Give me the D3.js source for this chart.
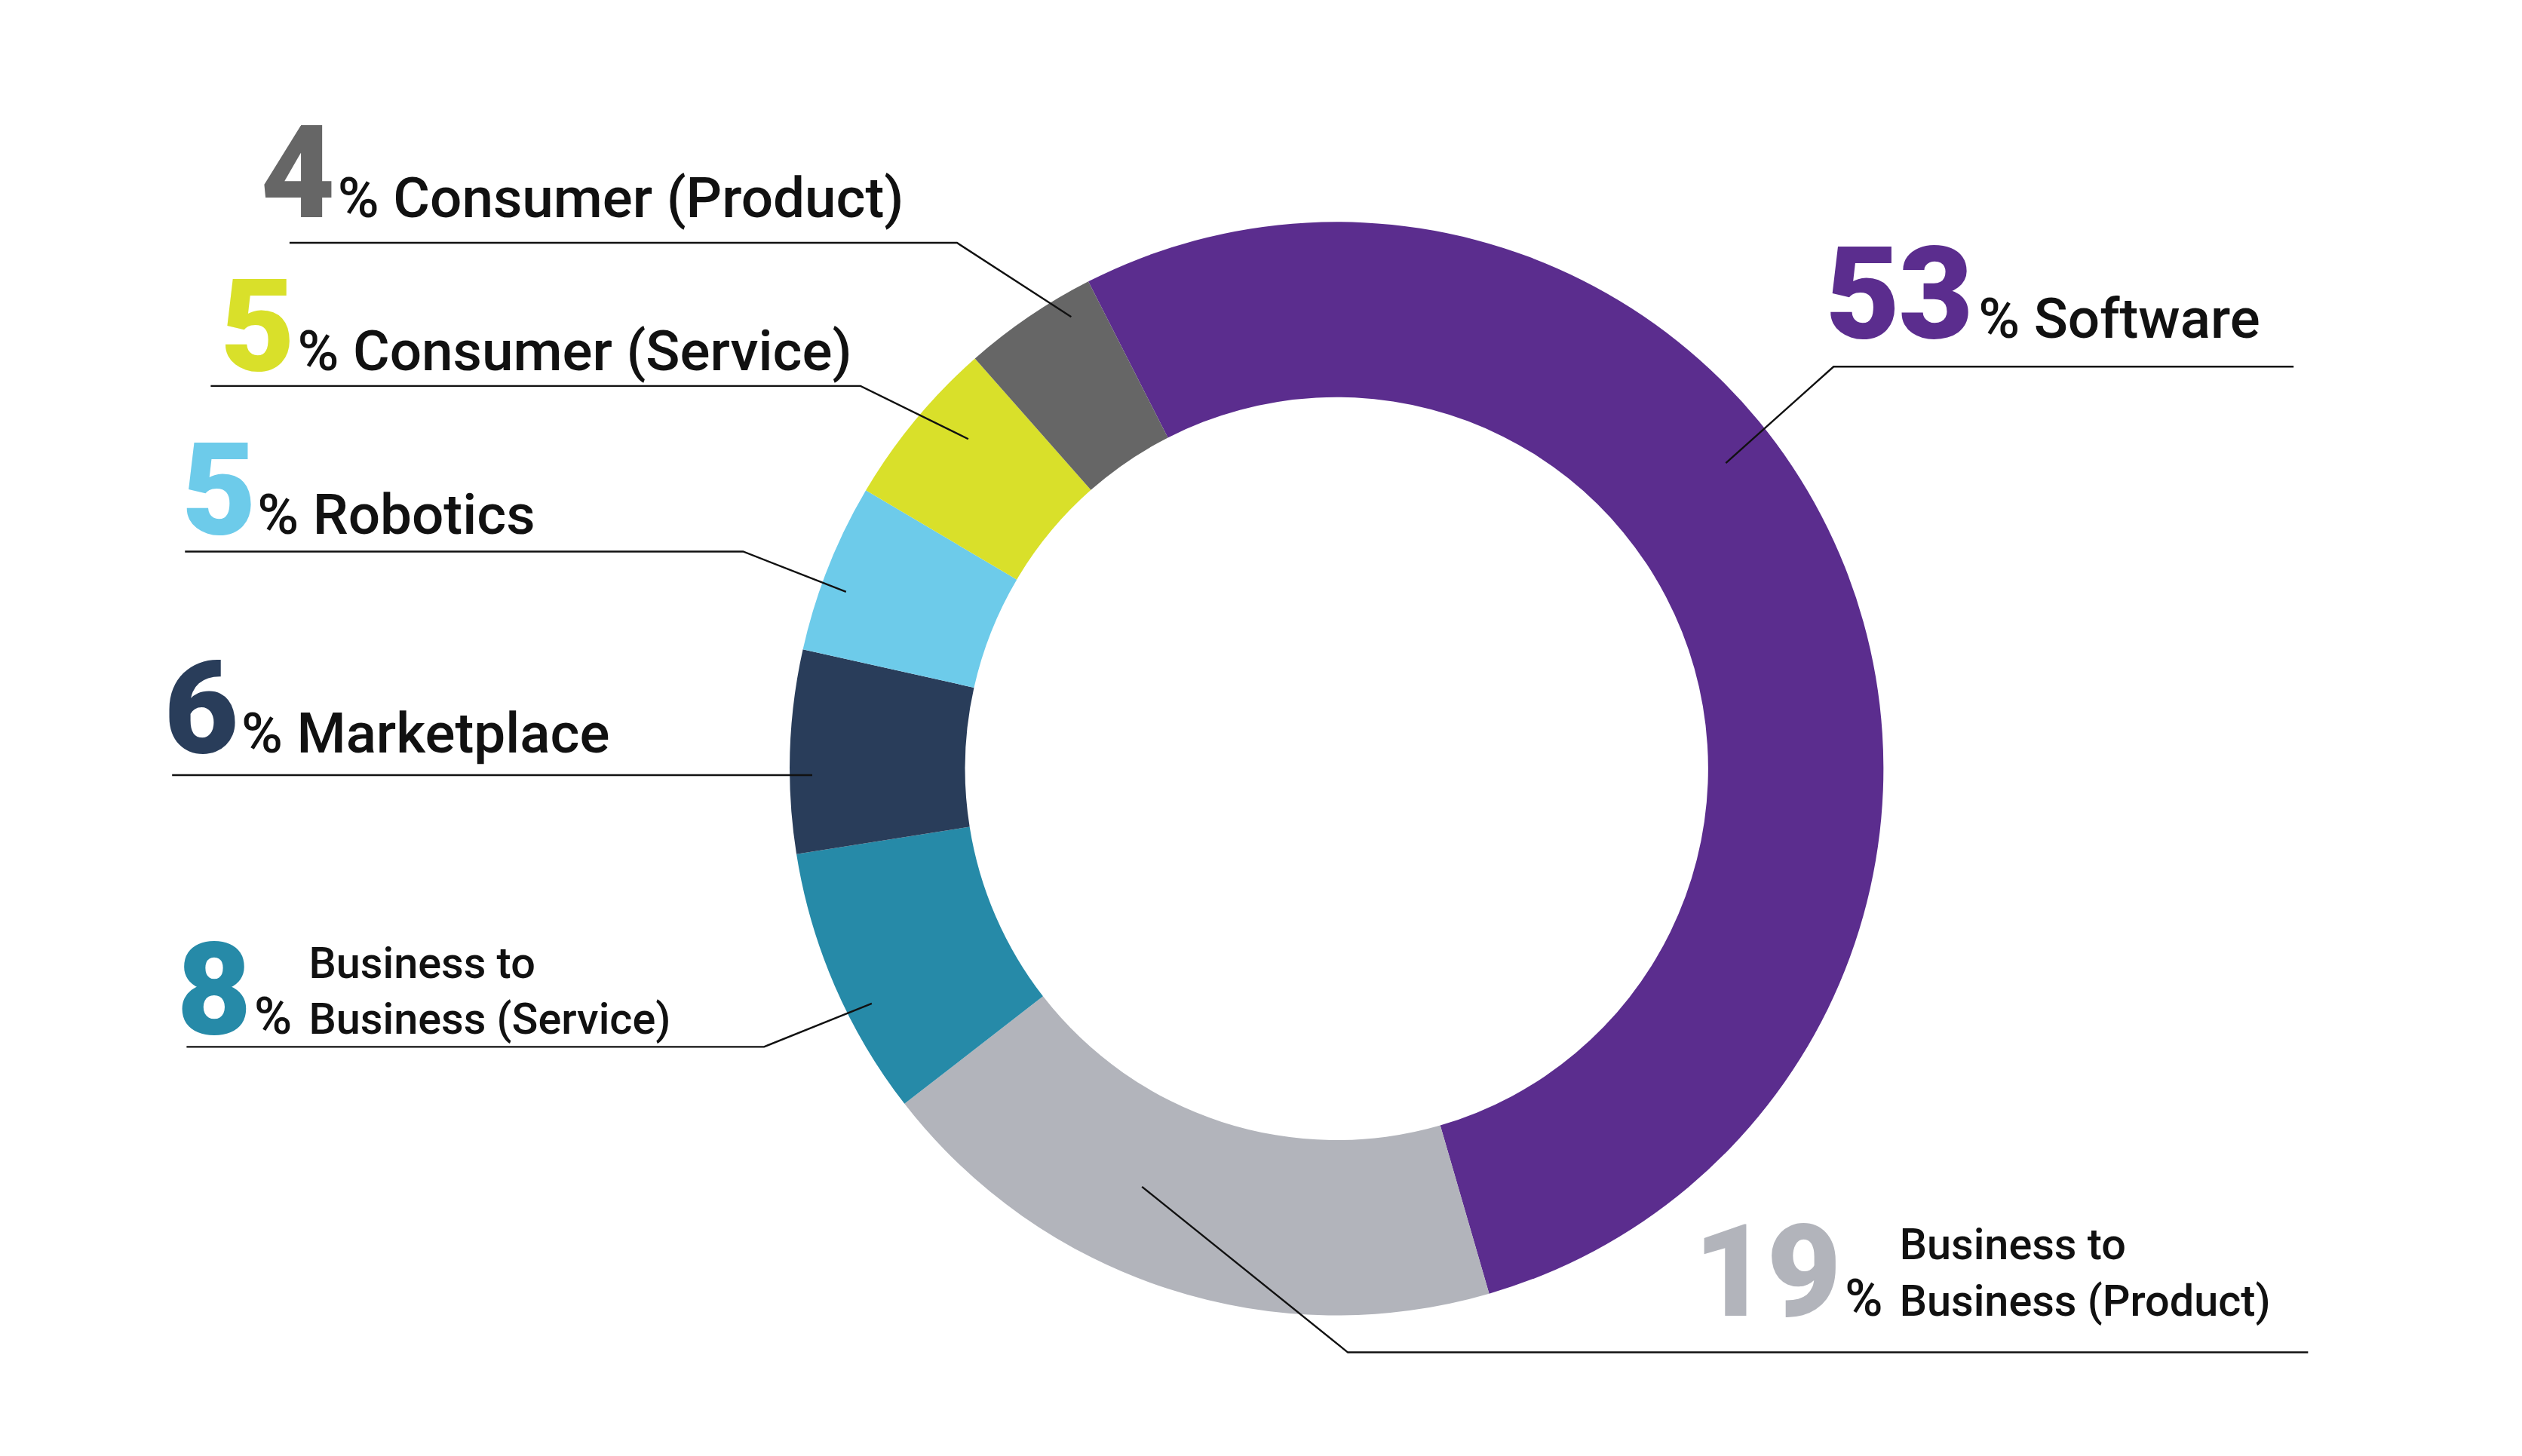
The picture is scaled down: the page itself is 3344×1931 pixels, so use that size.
<!DOCTYPE html>
<html><head><meta charset="utf-8">
<script src="https://cdn.jsdelivr.net/npm/d3@7"></script>
<style>body{margin:0;background:#fff}</style></head>
<body><svg id="c" width="3344" height="1931"></svg>
<script>
const categories = ["Software","Business to Business (Product)","Business to Business (Service)","Marketplace","Robotics","Consumer (Service)","Consumer (Product)"];
const values = [53,19,8,6,5,5,4];
const colors = ["#5b2d8e","#b2b4bb","#268aa8","#293d5a","#6dcbea","#d9e02a","#666666"];

const S = 3344/1568;
const svg = d3.select("#c");
const g = svg.append("g").attr("transform",`translate(${831*S},${478*S})`);
const pie = d3.pie().sort(null).startAngle(-27*Math.PI/180).endAngle(2*Math.PI-27*Math.PI/180);
const arc = d3.arc().innerRadius(231*S).outerRadius(340*S);
g.selectAll("path").data(pie(values)).join("path").attr("d",arc).attr("fill",(d,i)=>colors[i]);

// leader lines (display coords, scaled)
const lines = [
 [[1073,288],[1140,228],[1426,228]],
 [[710,738],[838,841],[1435,841]],
 [[542,624],[475,651],[116,651]],
 [[505,482],[107,482]],
 [[526,368],[462,343],[115,343]],
 [[602,273],[535,240],[131,240]],
 [[666,197],[595,151],[180,151]]
];
const lg = d3.line().x(d=>d[0]*S).y(d=>d[1]*S);
svg.selectAll("path.l").data(lines).join("path").attr("class","l").attr("d",lg)
 .attr("fill","none").attr("stroke","#111").attr("stroke-width",2.4);

// labels: [index, numX, baseline, textX, lines]
const labels = [
 [0,1135,210,1230,["% Software"]],
 [1,1053,818,1181,["Business to","Business (Product)"]],
 [2,110,643,192,["Business to","Business (Service)"]],
 [3,102,468,150,["% Marketplace"]],
 [4,113,332,160,["% Robotics"]],
 [5,137,230,185,["% Consumer (Service)"]],
 [6,162,135,210,["% Consumer (Product)"]]
];
labels.forEach(([i,nx,by,tx,ls])=>{
  svg.append("text").attr("x",nx*S).attr("y",by*S).text(values[i])
   .attr("font-family","Roboto").attr("font-weight",900).attr("font-size",80*S)
   .attr("fill",colors[i]).attr("letter-spacing",-2);
  if(ls.length===1){
    svg.append("text").attr("x",tx*S).attr("y",by*S).text(ls[0])
     .attr("font-family","Roboto").attr("font-weight",500).attr("font-size",35*S).attr("fill","#111");
  } else {
    svg.append("text").attr("x",(tx-34)*S).attr("y",by*S).text("%")
     .attr("font-family","Roboto").attr("font-weight",500).attr("font-size",32*S).attr("fill","#111");
    ls.forEach((t,k)=>svg.append("text").attr("x",tx*S).attr("y",(by-35+35*k)*S).text(t)
     .attr("font-family","Roboto").attr("font-weight",500).attr("font-size",27*S).attr("fill","#111"));
  }
});
</script></body></html>
